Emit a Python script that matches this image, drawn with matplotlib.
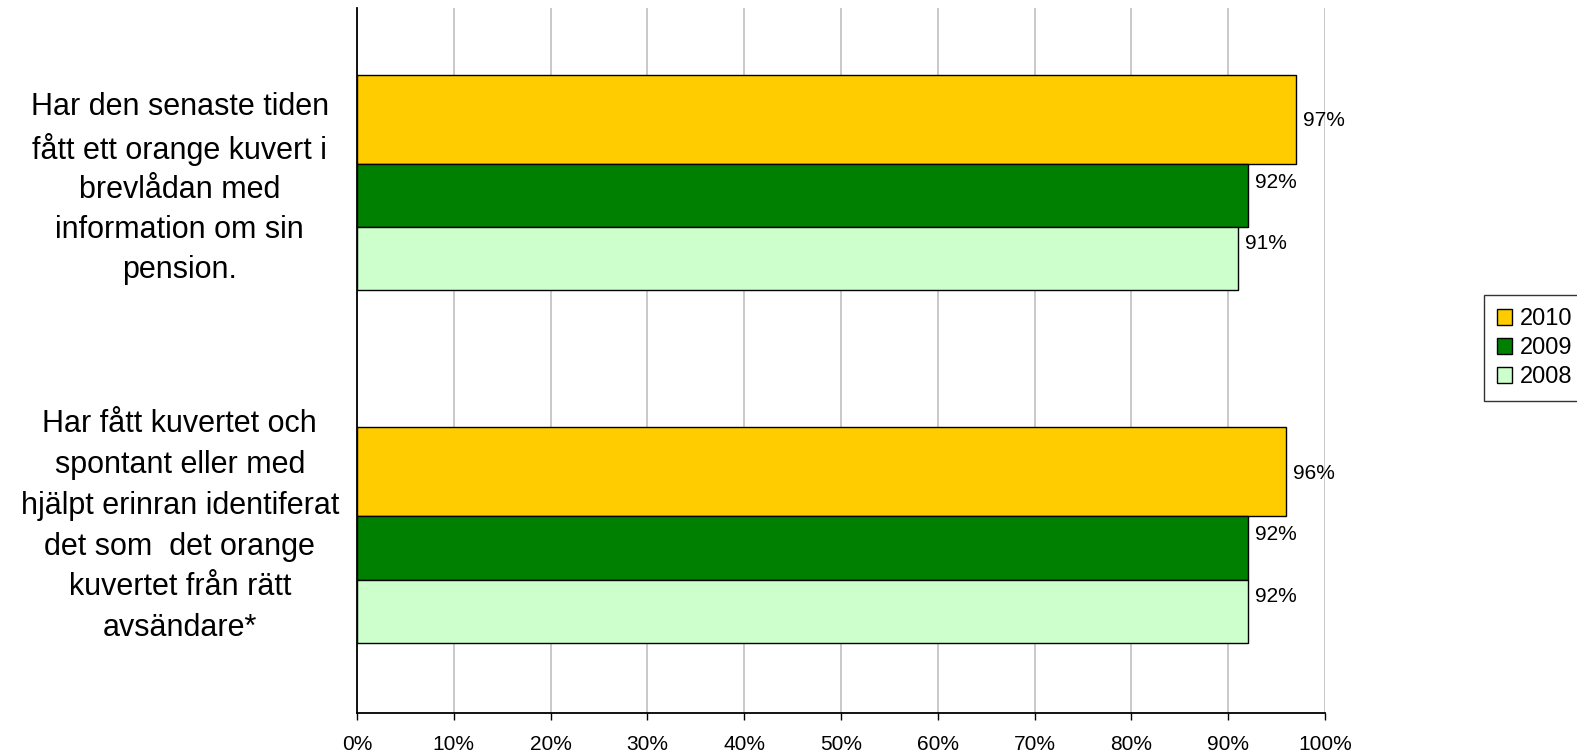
import matplotlib
matplotlib.use("Agg")
import matplotlib.pyplot as plt
from matplotlib.patches import Patch
from matplotlib.transforms import blended_transform_factory

plt.rcParams['font.family'] = ['Liberation Sans', 'DejaVu Sans']

# ---- data ----
categories = [
    "Har den senaste tiden\nfått ett orange kuvert i\nbrevlådan med\ninformation om sin\npension.",
    "Har fått kuvertet och\nspontant eller med\nhjälpt erinran identiferat\ndet som  det orange\nkuvertet från rätt\navsändare*",
]
series_names = ["2010", "2009", "2008"]
values_2010 = [97, 96]
values_2009 = [92, 92]
values_2008 = [91, 92]
x_ticks = [0, 10, 20, 30, 40, 50, 60, 70, 80, 90, 100]
x_tick_labels = [f"{t}%" for t in x_ticks]

series_values = [values_2010, values_2009, values_2008]
colors = ["#FFCC00", "#008000", "#CCFFCC"]
# bar layout within a category (style)
bar_centers = [-0.1845, 0.032, 0.211]
bar_heights = [0.253, 0.180, 0.178]
label_offsets = [-0.180, -0.005, 0.169]

W, H = 1577, 755
fig = plt.figure(figsize=(W / 100, H / 100), dpi=100)
ax = fig.add_axes([357 / W, 1 - 713 / H, (1325 - 357) / W, (713 - 8) / H])

for vals, col, c, h, lo in zip(series_values, colors, bar_centers, bar_heights, label_offsets):
    ys = [i + c for i in range(len(categories))]
    ax.barh(ys, [v / 100 for v in vals], height=h, color=col, edgecolor="black",
            linewidth=1.0, zorder=3)
    for i, v in enumerate(vals):
        ax.annotate(f"{v}%", xy=(v / 100, i + lo), xytext=(5, 0),
                    textcoords="offset points", ha="left", va="center",
                    fontsize=15, color="black", zorder=4)

ax.set_xlim(0, 1)
ax.set_ylim(len(categories) - 0.5, -0.5)
ax.set_xticks([t / 100 for t in x_ticks])
ax.set_xticklabels(x_tick_labels, fontsize=15)
ax.tick_params(axis="x", direction="out", length=5, width=1, color="black", pad=11)
ax.set_yticks([])

ax.grid(axis="x", color="#c0c0c0", linewidth=1.2, zorder=0)
ax.set_axisbelow(True)
for s in ["top", "right"]:
    ax.spines[s].set_visible(False)
for s in ["left", "bottom"]:
    ax.spines[s].set_color("black")
    ax.spines[s].set_linewidth(1.3)

trans = blended_transform_factory(ax.transAxes, ax.transData)
cat_label_dy = [0.011, -0.030]
cat_linespacing = [1.42, 1.47]
for i, (lab, dy, ls) in enumerate(zip(categories, cat_label_dy, cat_linespacing)):
    ax.text(-0.183, i + dy, lab, transform=trans, ha="center", va="center",
            multialignment="center", fontsize=22, linespacing=ls)

handles = [Patch(facecolor=c, edgecolor="black", linewidth=1.0) for c in colors]
leg = fig.legend(handles, series_names, loc="upper left",
                 bbox_to_anchor=(1484 / W, 1 - 295 / H), bbox_transform=fig.transFigure,
                 fontsize=17, frameon=True, fancybox=False, borderaxespad=0,
                 handlelength=0.65, handleheight=0.65, handletextpad=0.3,
                 labelspacing=0.3, borderpad=0.55)
leg.get_frame().set_edgecolor("black")
leg.get_frame().set_linewidth(1.0)

fig.savefig("out.png", dpi=100)
